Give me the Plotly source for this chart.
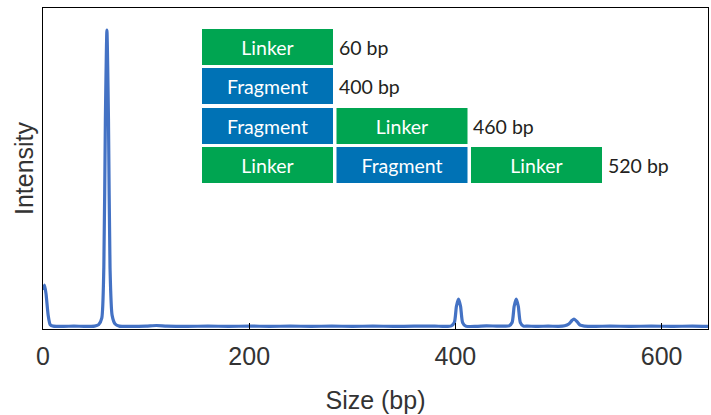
import plotly.graph_objects as go

# Electropherogram trace (size in bp, relative intensity)
sizes = [0, 1.5, 3, 5, 7, 10, 20, 30, 40, 50, 54, 57, 59, 60.5, 62, 63.5, 65, 67, 70, 74,
         85, 100, 110, 120, 140, 160, 180, 200, 220, 240, 260, 280, 300, 320, 340, 360,
         380, 390, 396, 399, 401, 403, 405, 407, 410, 420, 430, 440, 448, 452, 455, 457,
         459, 461, 463, 466, 470, 480, 490, 500, 506, 510, 513, 515, 518, 521, 525, 535,
         550, 570, 590, 610, 630, 646]
intensity = [125, 141, 110, 40, 8, 3, 2, 3, 2, 3, 8, 30, 200, 700, 1000, 700, 200, 40, 10, 3,
             2, 3, 5, 3, 2, 3, 2, 3, 2, 3, 2, 3, 2, 3, 2, 3,
             3, 2, 4, 15, 70, 94, 70, 15, 3, 2, 4, 3, 3, 4, 15, 70,
             94, 70, 15, 3, 3, 2, 3, 2, 4, 10, 22, 27, 18, 6, 3, 2,
             3, 2, 3, 2, 3, 2]

tick_vals = [0, 200, 400, 600]
tick_text = ["0", "200", "400", "600"]

# Legend blocks: rows of (label, kind), with total size text
rows = [
    (["Linker"], "60 bp"),
    (["Fragment"], "400 bp"),
    (["Fragment", "Linker"], "460 bp"),
    (["Linker", "Fragment", "Linker"], "520 bp"),
]
block_colors = {"Linker": "#00A551", "Fragment": "#0072B5"}

W, H = 711, 415
ML, MR, MT, MB = 43, 3, 8, 86
PW, PH = W - ML - MR, H - MT - MB


def px_x(px):
    return (px - ML) / PW


def px_y(py):
    return (H - MB - py) / PH


fig = go.Figure()
fig.add_trace(go.Scatter(x=sizes, y=intensity, mode="lines",
                         line=dict(color="#4472C4", width=3.2, shape="spline", smoothing=0.6),
                         hoverinfo="skip", showlegend=False))

shapes = []
annotations = []
box_left, box_w, box_gap = 202, 131, 3.5
row_tops = [29, 68, 108, 147]
row_h = 36
for (blocks, label), top in zip(rows, row_tops):
    x0 = box_left
    for b in blocks:
        shapes.append(dict(
            type="rect", xref="paper", yref="paper",
            x0=px_x(x0), x1=px_x(x0 + box_w), y0=px_y(top + row_h), y1=px_y(top),
            fillcolor=block_colors[b], line=dict(width=0), layer="above",
            label=dict(text=b, textposition="middle center",
                       font=dict(family="Lato", size=19.5, color="white")),
        ))
        x0 += box_w + box_gap
    annotations.append(dict(
        xref="paper", yref="paper", x=px_x(x0), y=px_y(top + row_h / 2),
        text=label, showarrow=False, xanchor="left", yanchor="middle",
        font=dict(family="Lato", size=19.5, color="#231F20"),
    ))

fig.update_layout(
    width=W, height=H,
    margin=dict(l=ML, r=MR, t=MT, b=MB),
    paper_bgcolor="white", plot_bgcolor="white",
    shapes=shapes, annotations=annotations,
    font=dict(family="Liberation Sans", color="#333333"),
    xaxis=dict(range=[0, 645], tickvals=tick_vals, ticktext=tick_text, automargin=False,
               ticks="inside", ticklen=6, tickcolor="black", tickwidth=1,
               ticklabelstandoff=5,
               showgrid=False, zeroline=False, showline=True, linecolor="black",
               linewidth=1.3, mirror=True, tickfont=dict(size=25, color="#333333"),
               title=dict(text="Size (bp)", font=dict(size=25, color="#333333"), standoff=22)),
    yaxis=dict(range=[-6.7, 1074], showticklabels=False, ticks="", showgrid=False,
               automargin=False,
               zeroline=False, showline=True, linecolor="black", linewidth=1.3, mirror=True,
               title=dict(text="Intensity", font=dict(size=25, color="#333333"), standoff=1)),
)

fig.write_html(
    "out.html",
    config={"displayModeBar": False, "staticPlot": True},
    post_script="document.body.style.margin='0';"
                "document.documentElement.style.overflow='hidden';",
)
